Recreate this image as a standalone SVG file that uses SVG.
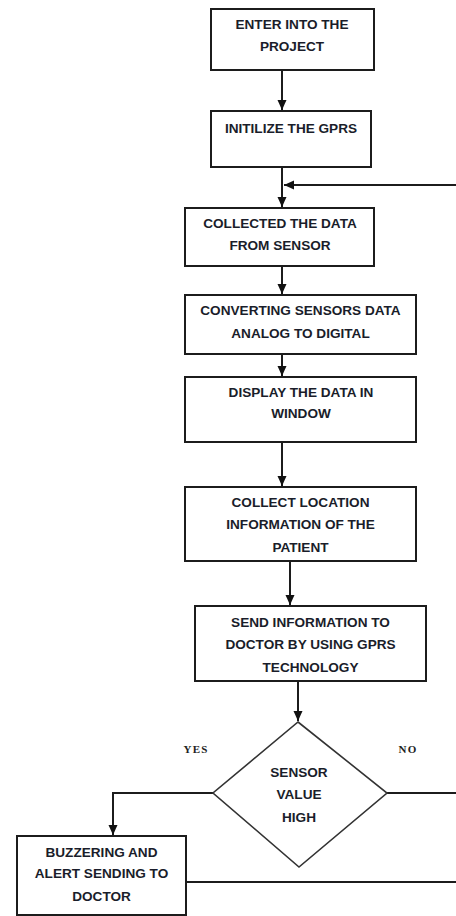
<svg xmlns="http://www.w3.org/2000/svg" width="456" height="916" viewBox="0 0 456 916">
<style>
.box{fill:#fff;stroke:#1c1c1c;stroke-width:2}
.t{font-family:"Liberation Sans",Arial,sans-serif;font-weight:bold;font-size:13.6px;fill:#1a1d2a;text-anchor:middle}
.lab{font-family:"Liberation Serif","Times New Roman",serif;font-weight:bold;font-size:11px;letter-spacing:1.2px;fill:#222;text-anchor:middle}
.c{fill:none;stroke:#1c1c1c;stroke-width:2}
</style>
<defs>
<marker id="ah" markerUnits="userSpaceOnUse" markerWidth="10" markerHeight="10" viewBox="0 0 10 10" refX="10" refY="5" orient="auto">
<path d="M0,0.5 L10,5 L0,9.5 Z" fill="#111"/>
</marker>
</defs>
<rect width="456" height="916" fill="#fff"/>
<g id="connectors">
<path class="c" d="M282,70 V110" marker-end="url(#ah)"/>
<path class="c" d="M282,167 V207" marker-end="url(#ah)"/>
<path class="c" d="M458,185 H284" marker-end="url(#ah)"/>
<path class="c" d="M282,266 V294" marker-end="url(#ah)"/>
<path class="c" d="M282,354 V376" marker-end="url(#ah)"/>
<path class="c" d="M282,442 V486" marker-end="url(#ah)"/>
<path class="c" d="M290,561 V605" marker-end="url(#ah)"/>
<path class="c" d="M298,681 V721" marker-end="url(#ah)"/>
<path class="c" d="M213,793 H113 V835" marker-end="url(#ah)"/>
<path class="c" d="M387,793 H458"/>
<path class="c" d="M186,882 H458"/>
</g>
<g id="n1"><rect class="box" x="211" y="9" width="163" height="61"/>
<text class="t" x="292" y="29">ENTER INTO THE</text><text class="t" x="292" y="51">PROJECT</text></g>
<g id="n2"><rect class="box" x="211" y="111" width="160" height="56"/>
<text class="t" x="291" y="133">INITILIZE THE GPRS</text></g>
<g id="n3"><rect class="box" x="185" y="208" width="189" height="58"/>
<text class="t" x="280" y="228">COLLECTED THE DATA</text><text class="t" x="280" y="250">FROM SENSOR</text></g>
<g id="n4"><rect class="box" x="185" y="295" width="231" height="59"/>
<text class="t" x="300.5" y="315">CONVERTING SENSORS DATA</text><text class="t" x="300.5" y="338">ANALOG TO DIGITAL</text></g>
<g id="n5"><rect class="box" x="185" y="377" width="231" height="65"/>
<text class="t" x="301" y="397">DISPLAY THE DATA IN</text><text class="t" x="301" y="418">WINDOW</text></g>
<g id="n6"><rect class="box" x="185" y="487" width="231" height="74"/>
<text class="t" x="300.5" y="507">COLLECT LOCATION</text><text class="t" x="300.5" y="529">INFORMATION OF THE</text><text class="t" x="300.5" y="552">PATIENT</text></g>
<g id="n7"><rect class="box" x="195" y="606" width="231" height="75"/>
<text class="t" x="310.5" y="627">SEND INFORMATION TO</text><text class="t" x="310.5" y="649">DOCTOR BY USING GPRS</text><text class="t" x="310.5" y="672">TECHNOLOGY</text></g>
<g id="n8"><path d="M298,722 L387,793 L299,867 L213,793 Z" fill="#fff" stroke="#333" stroke-width="1.6"/>
<text class="t" x="299" y="777">SENSOR</text><text class="t" x="299" y="799">VALUE</text><text class="t" x="299" y="822">HIGH</text></g>
<g id="n9"><rect class="box" x="17" y="836" width="169" height="79"/>
<text class="t" x="101.5" y="857">BUZZERING AND</text><text class="t" x="101.5" y="878">ALERT SENDING TO</text><text class="t" x="101.5" y="901">DOCTOR</text></g>
<g id="labels"><text class="lab" x="196" y="753">YES</text><text class="lab" x="408" y="753">NO</text></g>
</svg>
